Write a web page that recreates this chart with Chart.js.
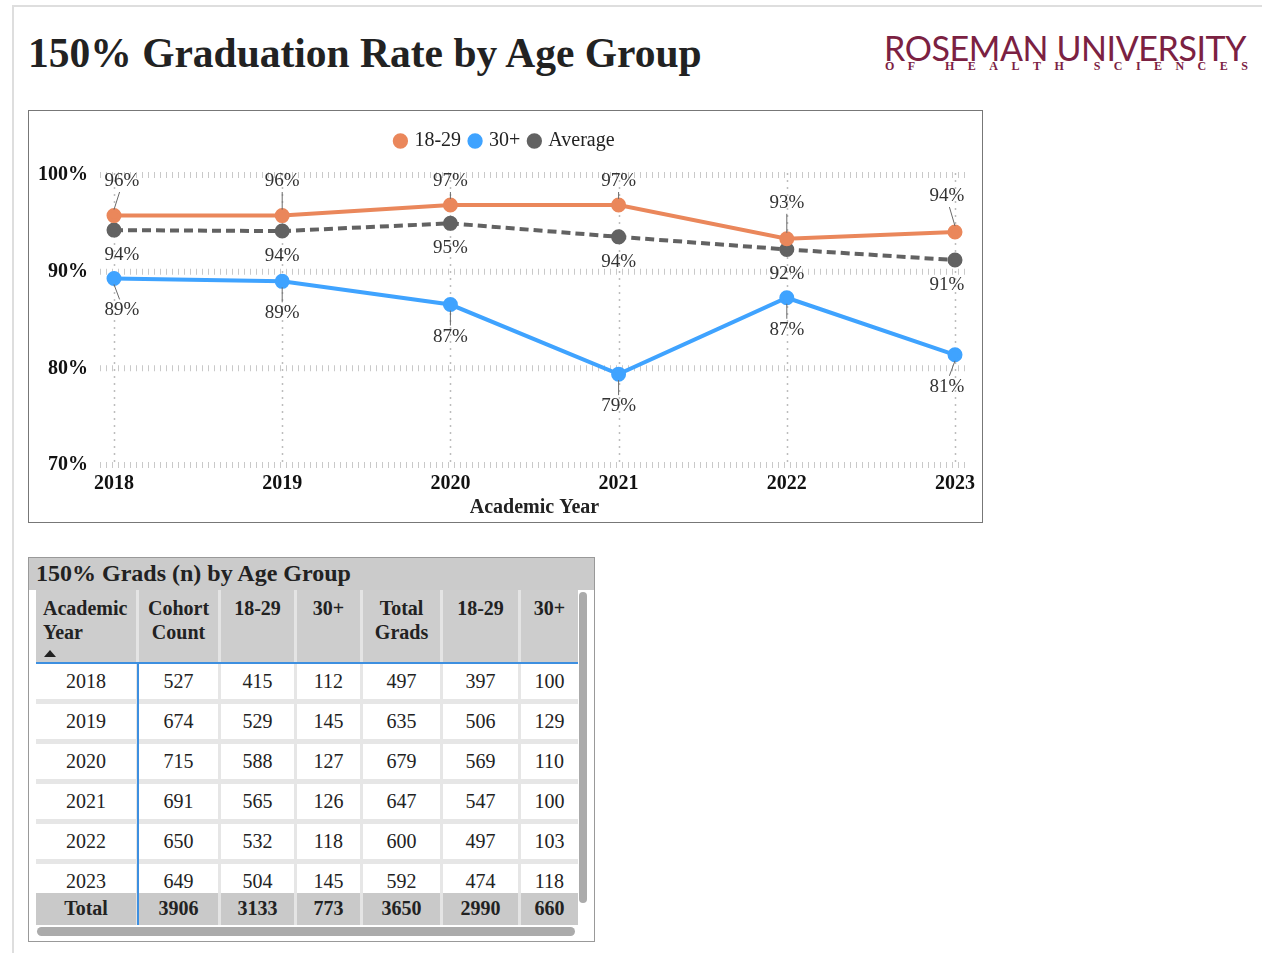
<!DOCTYPE html>
<html>
<head>
<meta charset="utf-8">
<script src="https://cdn.jsdelivr.net/npm/chart.js@4.4.1/dist/chart.umd.min.js"></script>
<style>
  html,body{margin:0;padding:0;background:#fff;}
  body{width:1262px;height:953px;position:relative;overflow:hidden;font-family:"Liberation Serif","Times New Roman",serif;color:#222;}
  .abs{position:absolute;}
  #frameTop{left:13px;top:5px;width:1249px;height:2px;background:#dedede;}
  #frameLeft{left:12px;top:5px;width:2px;height:948px;background:#dedede;}
  #title{left:28px;top:28px;font-size:41.5px;font-weight:bold;white-space:nowrap;line-height:50px;}
  #logo1{left:884px;top:29px;width:364px;font-family:Lato,"Open Sans",sans-serif;font-size:34px;color:#7b2142;white-space:nowrap;line-height:38px;letter-spacing:-0.4px;}
  #logo2{left:885px;top:59px;width:363px;display:flex;justify-content:space-between;font-size:12px;font-weight:bold;color:#7b2142;line-height:14px;}
  #chartBox{left:28px;top:110px;width:953px;height:411px;border:1px solid #777;}
  #chartWrap{position:absolute;left:0;top:0;width:953px;height:411px;}
  #tblBox{left:28px;top:557px;width:565px;height:383px;border:1px solid #999;}
  #tblTitle{left:29px;top:558px;width:565px;height:32px;background:#cbcbcb;font-size:24px;font-weight:bold;line-height:30px;}
  #tblTitle span{padding-left:7px;}
  .grid{display:grid;grid-template-columns:100px 79px 73px 63px 77px 75px 57px;column-gap:3px;}
  #head{left:36px;top:590px;width:542px;height:73px;background:#e4e4e4;}
  #head div{background:#cdcdcd;font-weight:bold;font-size:20px;line-height:24px;text-align:center;padding-top:6px;}
  #head div.first{text-align:left;padding-left:7px;}
  #body{left:36px;top:664px;width:542px;height:261px;overflow:hidden;background:#e6e6e6;row-gap:5px;grid-auto-rows:35px;}
  #body div{background:#fff;font-size:20px;line-height:35px;text-align:center;}
  #total{left:36px;top:893px;width:542px;height:32px;background:#e4e4e4;}
  #total div{background:#c9c9c9;font-size:20px;font-weight:bold;line-height:30px;text-align:center;}
  #blueH{left:36px;top:662px;width:542px;height:2px;background:#3d8fe0;}
  #blueV{left:137px;top:663px;width:1.5px;height:262px;background:#3d8fe0;}
  #vScroll{left:579px;top:592px;width:8px;height:311px;background:#ababab;border-radius:4px;}
  #hScroll{left:37px;top:927px;width:538px;height:9px;background:#ababab;border-radius:5px;}
  .arrow{display:block;width:0;height:0;border-left:6px solid transparent;border-right:6px solid transparent;border-bottom:7px solid #222;margin-top:6px;margin-left:1px;}
</style>
</head>
<body>
<div id="frameTop" class="abs"></div>
<div id="frameLeft" class="abs"></div>
<div id="title" class="abs">150% Graduation Rate by Age Group</div>
<div id="logo1" class="abs">ROSEMAN UNIVERSITY</div>
<div id="logo2" class="abs"></div>

<div id="chartBox" class="abs"><div id="chartWrap"><canvas id="rateChart"></canvas></div></div>

<div id="tblBox" class="abs"></div>
<div id="tblTitle" class="abs"><span>150% Grads (n) by Age Group</span></div>
<div id="head" class="abs grid"></div>
<div id="body" class="abs grid"></div>
<div id="total" class="abs grid"></div>
<div id="blueH" class="abs"></div>
<div id="blueV" class="abs"></div>
<div id="vScroll" class="abs"></div>
<div id="hScroll" class="abs"></div>

<script>
// chart data
const years = ["2018","2019","2020","2021","2022","2023"];
const rate1829 = [95.8, 95.8, 96.9, 96.9, 93.4, 94.1];
const rate30 = [89.3, 89.0, 86.6, 79.4, 87.3, 81.4];
const rateAvg = [94.3, 94.2, 95.0, 93.6, 92.3, 91.2];
const yTicks = [70, 80, 90, 100];

// table data
const tblHead = [["Academic","Year"],["Cohort","Count"],["18-29"],["30+"],["Total","Grads"],["18-29"],["30+"]];
const cohort = [527, 674, 715, 691, 650, 649];
const cohort1829 = [415, 529, 588, 565, 532, 504];
const cohort30 = [112, 145, 127, 126, 118, 145];
const grads = [497, 635, 679, 647, 600, 592];
const grads1829 = [397, 506, 569, 547, 497, 474];
const grads30 = [100, 129, 110, 100, 103, 118];
const totals = ["Total", 3906, 3133, 773, 3650, 2990, 660];

const C = { orange:"#ea875b", blue:"#3fa3ff", gray:"#626262", grid:"#c9c9c9", vgrid:"#bdbdbd", label:"#333", leader:"#6a6a6a" };
const FONT = "'Liberation Serif', 'Times New Roman', serif";

// logo subtitle, spaced letters
const sub = document.getElementById("logo2");
"OF HEALTH SCIENCES".split("").forEach(ch => { const s=document.createElement("span"); s.textContent = ch===" " ? "\u00a0" : ch; sub.appendChild(s); });

// table
const head = document.getElementById("head");
tblHead.forEach((h,i) => {
  const d = document.createElement("div");
  if (i===0) d.className = "first";
  d.innerHTML = h.join("<br>") + (i===0 ? '<span class="arrow"></span>' : "");
  head.appendChild(d);
});
const body = document.getElementById("body");
years.forEach((y,r) => {
  [y, cohort[r], cohort1829[r], cohort30[r], grads[r], grads1829[r], grads30[r]].forEach(v => {
    const d = document.createElement("div"); d.textContent = v; body.appendChild(d);
  });
});
const tot = document.getElementById("total");
totals.forEach(v => { const d=document.createElement("div"); d.textContent=v; tot.appendChild(d); });

// extra room under the legend, and centre it on the whole canvas
const legendGap = {
  id:"legendGap",
  beforeInit(chart) {
    const fit = chart.legend.fit;
    chart.legend.fit = function() { fit.bind(chart.legend)(); this.height += 14; };
  },
  afterLayout(chart) {
    const lg = chart.legend;
    lg.left = 0; lg.right = chart.width; lg.width = chart.width;
  }
};

// grid lines + data labels with leader lines
const gridPlugin = {
  id:"gridPlugin",
  beforeDatasetsDraw(chart) {
    const {ctx, chartArea:a, scales:{x, y}} = chart;
    ctx.save();
    ctx.strokeStyle = C.vgrid; ctx.lineWidth = 1.5; ctx.setLineDash([2,5]);
    years.forEach((_,i) => {
      const px = Math.round(x.getPixelForValue(i)) + 0.5;
      ctx.beginPath(); ctx.moveTo(px, a.top - 2); ctx.lineTo(px, a.bottom); ctx.stroke();
    });
    ctx.strokeStyle = C.grid; ctx.lineWidth = 6; ctx.setLineDash([1,5]);
    yTicks.forEach(v => {
      const py = y.getPixelForValue(v);
      ctx.beginPath(); ctx.moveTo(a.left - 14, py); ctx.lineTo(a.right + 11, py); ctx.stroke();
    });
    ctx.restore();
  },
  afterDatasetsDraw(chart) {
    const {ctx, chartArea:a} = chart;
    ctx.save();
    ctx.font = "19px " + FONT; ctx.textAlign = "center"; ctx.textBaseline = "middle";
    chart.data.datasets.forEach((ds, di) => {
      const lab = ds.labelPos;
      chart.getDatasetMeta(di).data.forEach((pt, i) => {
        const px = pt.x, py = pt.y;
        const lx = px + (i===0 ? 8 : i===years.length-1 ? -8 : 0);
        let ly;
        if (lab.pos === "above") ly = Math.max(py - lab.off, a.top + 6);
        else ly = py + lab.off;
        if (lab.leader) {
          const s = lab.pos === "above" ? -1 : 1;
          const y0 = py + s*6, y1 = ly - s*11;
          if ((y1 - y0)*s > 2) {
            ctx.strokeStyle = C.leader; ctx.lineWidth = 1;
            ctx.beginPath(); ctx.moveTo(px, y0); ctx.lineTo(lx - (lx-px)*0.3, y1); ctx.stroke();
          }
        }
        ctx.fillStyle = C.label;
        ctx.fillText(Math.round(ds.data[i]) + "%", lx, ly);
      });
    });
    ctx.restore();
  }
};

new Chart(document.getElementById("rateChart"), {
  type:"line",
  data:{ labels:years, datasets:[
    { label:"18-29", data:rate1829, borderColor:C.orange, backgroundColor:C.orange, borderWidth:4, pointRadius:5.5, labelPos:{pos:"above", off:36, leader:true} },
    { label:"30+", data:rate30, borderColor:C.blue, backgroundColor:C.blue, borderWidth:4, pointRadius:5.5, labelPos:{pos:"below", off:32, leader:true} },
    { label:"Average", data:rateAvg, borderColor:C.gray, backgroundColor:C.gray, borderWidth:4, borderDash:[9,5], pointRadius:5.5, labelPos:{pos:"below", off:25, leader:false} },
  ]},
  options:{ responsive:true, maintainAspectRatio:false, animation:false, events:[],
    layout:{ padding:{ top:10, right:23, bottom:0, left:0 } },
    plugins:{
      legend:{ display:true, position:"top", labels:{ usePointStyle:true, pointStyle:"circle", boxWidth:8, boxHeight:8, padding:10, color:"#222", font:{ family:FONT, size:20 } } },
      tooltip:{ enabled:false },
    },
    scales:{
      x:{ grid:{ display:false, drawTicks:false }, border:{ display:false },
          afterFit(s){ s.height = 57; },
          ticks:{ color:"#111", padding:7, maxRotation:0, font:{ family:FONT, size:20, weight:"bold" } },
          title:{ display:true, text:"Academic Year", color:"#222", padding:{ top:0, bottom:2 }, font:{ family:FONT, size:20, weight:"bold" } } },
      y:{ min:70, max:100, grid:{ display:false, drawTicks:false }, border:{ display:false },
          afterFit(s){ s.width = 85; },
          ticks:{ stepSize:10, padding:26, color:"#111", callback:v => v + "%", font:{ family:FONT, size:20, weight:"bold" } } },
    },
  },
  plugins:[legendGap, gridPlugin],
});
</script>
</body>
</html>
